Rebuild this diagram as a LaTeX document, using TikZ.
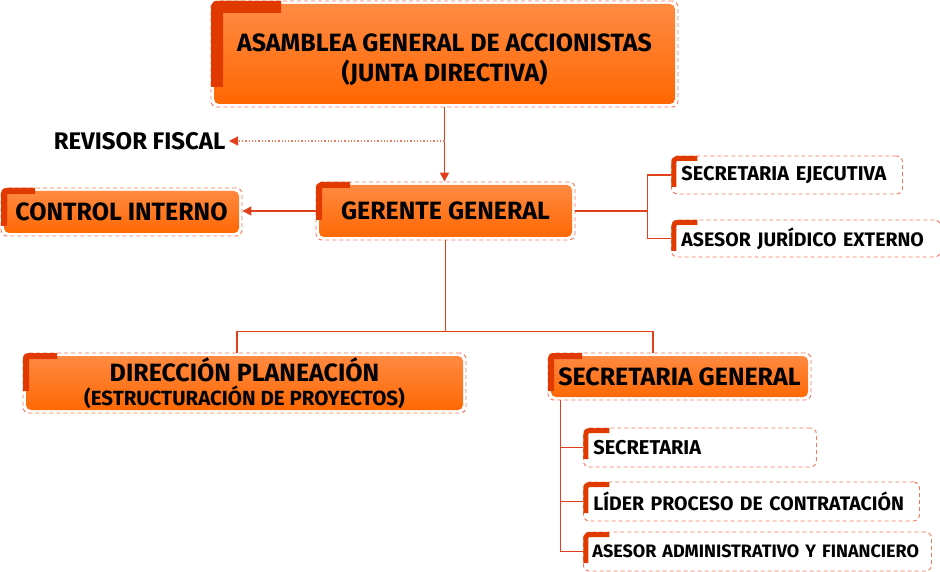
\documentclass[tikz,border=0pt]{standalone}
\usepackage{fontspec}
\setmainfont{Fira Sans}
\usetikzlibrary{arrows.meta, positioning, calc}
\definecolor{orangetop}{HTML}{FF8C45}
\definecolor{orangebot}{HTML}{FF6600}
\definecolor{cornerred}{HTML}{E03A00}
\definecolor{framered}{HTML}{F2785C}
\definecolor{linkred}{HTML}{E2401C}
\tikzset{
  boxframe/.style={rectangle, rounded corners=6pt, draw=framered, dash pattern=on 4pt off 3pt, line width=0.9pt, fill=white, inner sep=2pt},
  orangefill/.style={path picture={\shade[top color=orangetop, middle color=orangebot, bottom color=orangebot, rounded corners=5pt] ([shift={(3pt,3pt)}]path picture bounding box.south west) rectangle ([shift={(-3pt,-3pt)}]path picture bounding box.north east);}},
  corner/.style n args={3}{postaction={path picture={\draw[solid, draw=cornerred, line width=#1, rounded corners=3pt] ([xshift=#1/2, yshift=-#3]path picture bounding box.north west) |- ([xshift=#2, yshift=-#1/2]path picture bounding box.north west);}}},
  mainbox/.style={boxframe, orangefill, corner={6pt}{34pt}{38pt}, align=center, font=\bfseries\fontsize{25}{30}\selectfont},
  subbox/.style={boxframe, corner={5pt}{26pt}{31pt}, align=left, inner xsep=10pt, minimum height=38pt, anchor=west, font=\bfseries\fontsize{20}{24}\selectfont},
  link/.style={draw=linkred, line width=1.5pt},
  arrow/.style={link, -{Triangle[length=9pt,width=9pt]}},
  dotlink/.style={draw=framered, line width=1.3pt, dotted, -{Triangle[length=9pt,width=9pt,color=linkred,fill=linkred]}}
}
\begin{document}
\begin{tikzpicture}[x=1pt, y=1pt]
\useasboundingbox (0,0) rectangle (940,-572);
% top level
\node[mainbox, corner={12pt}{70pt}{86pt}, minimum width=467pt, minimum height=106pt] (asamblea) at (444.5,-54) {\rule{0pt}{29pt}ASAMBLEA GENERAL DE ACCIONISTAS\\(JUNTA DIRECTIVA)};
\node[font=\bfseries\fontsize{24}{28}\selectfont, anchor=east] (revisor) at (229,-141) {REVISOR FISCAL};

% gerencia
\node[mainbox, minimum width=259pt, minimum height=58pt] (gerente) at (445.5,-211) {GERENTE GENERAL};
\node[mainbox, minimum width=241pt, minimum height=48pt, corner={6pt}{31pt}{34pt}] (control) at (121.5,-212) {CONTROL INTERNO};
\node[subbox, text width=211pt] (secejec) at (671,-175) {SECRETARIA EJECUTIVA};
\node[subbox, text width=249pt, minimum height=37pt, font=\bfseries\fontsize{19.5}{24}\selectfont] (asesorjur) at (671,-238.5) {ASESOR JURÍDICO EXTERNO};

% direcciones
\node[mainbox, minimum width=443pt, minimum height=60pt, corner={5pt}{32pt}{37pt}, font=\bfseries\fontsize{25}{24}\selectfont] (direccion) at (244.5,-383) {DIRECCIÓN PLANEACIÓN\\{\fontsize{20.5}{24}\selectfont(ESTRUCTURACIÓN DE PROYECTOS)}};
\node[mainbox, minimum width=263pt, minimum height=47pt, corner={5pt}{32pt}{37pt}] (secgen) at (679.5,-376.5) {SECRETARIA GENERAL};
\node[subbox, text width=213pt, minimum height=39pt] (secretaria) at (583,-447.5) {SECRETARIA};
\node[subbox, text width=316pt, minimum height=39pt, font=\bfseries\fontsize{19.5}{24}\selectfont] (lider) at (583,-501.5) {LÍDER PROCESO DE CONTRATACIÓN};
\node[subbox, text width=330pt, minimum height=39pt, inner xsep=9pt, font=\bfseries\fontsize{18}{22}\selectfont] (asesoradm) at (583,-551.5) {ASESOR ADMINISTRATIVO Y FINANCIERO};

% connectors
\draw[arrow] (asamblea.south) -- (asamblea.south |- gerente.north);
\coordinate (rf) at (asamblea.south |- revisor.east);
\draw[dotlink] (rf) -- (revisor.east);
\draw[arrow] (gerente.west) -- (gerente.west -| control.east);
\draw[link] (gerente.east) -- ++(72,0) coordinate (ge);
\draw[link] (ge) |- (secejec.west);
\draw[link] (ge) |- (asesorjur.west);
\draw[link] (gerente.south) -- ++(0,-91) coordinate (gs);
\draw[link] (gs) -| ([xshift=-7.5]direccion.north);
\draw[link] (gs) -| ([xshift=-26.5]secgen.north);
\draw[link] ([xshift=13]secgen.south west) coordinate (sg) |- (secretaria.west);
\draw[link] (sg) |- (lider.west);
\draw[link] (sg) |- (asesoradm.west);
\end{tikzpicture}
\end{document}
